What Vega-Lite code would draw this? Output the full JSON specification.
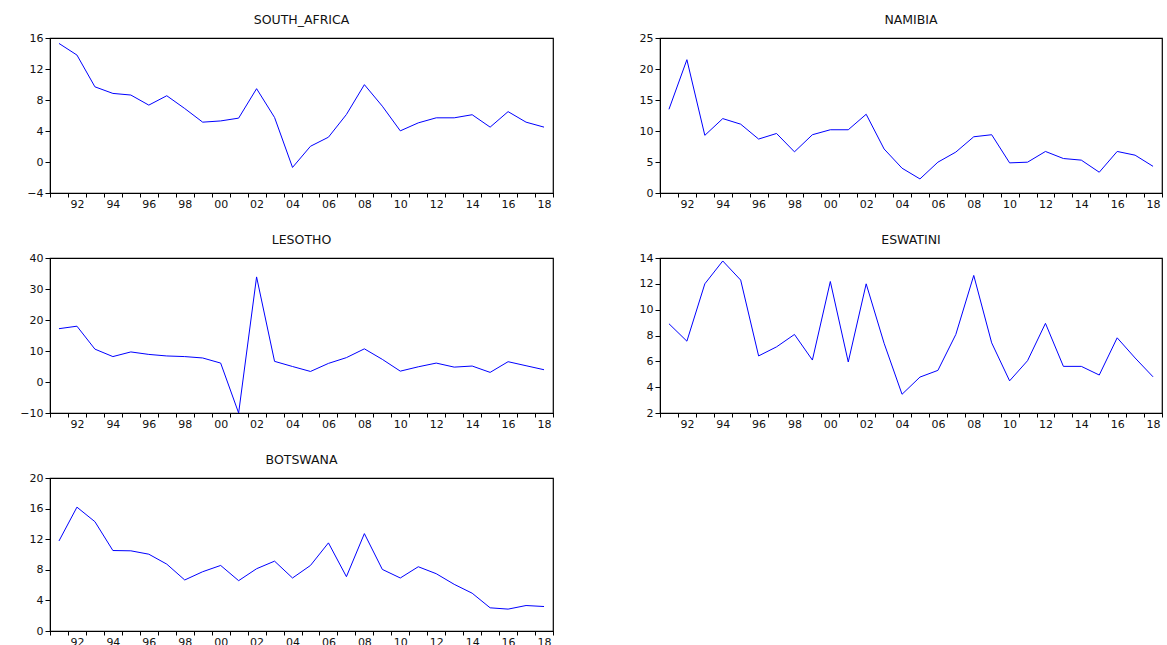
{
  "$schema": "https://vega.github.io/schema/vega-lite/v6.json",
  "padding": {"left": 19, "top": 12, "right": 0, "bottom": 0},
  "background": "white",
  "columns": 2,
  "spacing": {"column": 83, "row": 22},
  "datasets": {
    "gdp": [
      {"country": "SOUTH_AFRICA", "year": 1991, "value": 15.3},
      {"country": "SOUTH_AFRICA", "year": 1992, "value": 13.8},
      {"country": "SOUTH_AFRICA", "year": 1993, "value": 9.7},
      {"country": "SOUTH_AFRICA", "year": 1994, "value": 8.85},
      {"country": "SOUTH_AFRICA", "year": 1995, "value": 8.64},
      {"country": "SOUTH_AFRICA", "year": 1996, "value": 7.34},
      {"country": "SOUTH_AFRICA", "year": 1997, "value": 8.55},
      {"country": "SOUTH_AFRICA", "year": 1998, "value": 6.9},
      {"country": "SOUTH_AFRICA", "year": 1999, "value": 5.14},
      {"country": "SOUTH_AFRICA", "year": 2000, "value": 5.3},
      {"country": "SOUTH_AFRICA", "year": 2001, "value": 5.66},
      {"country": "SOUTH_AFRICA", "year": 2002, "value": 9.46},
      {"country": "SOUTH_AFRICA", "year": 2003, "value": 5.75},
      {"country": "SOUTH_AFRICA", "year": 2004, "value": -0.7},
      {"country": "SOUTH_AFRICA", "year": 2005, "value": 2.03},
      {"country": "SOUTH_AFRICA", "year": 2006, "value": 3.2},
      {"country": "SOUTH_AFRICA", "year": 2007, "value": 6.13},
      {"country": "SOUTH_AFRICA", "year": 2008, "value": 9.98},
      {"country": "SOUTH_AFRICA", "year": 2009, "value": 7.2},
      {"country": "SOUTH_AFRICA", "year": 2010, "value": 4.02},
      {"country": "SOUTH_AFRICA", "year": 2011, "value": 5.05},
      {"country": "SOUTH_AFRICA", "year": 2012, "value": 5.7},
      {"country": "SOUTH_AFRICA", "year": 2013, "value": 5.7},
      {"country": "SOUTH_AFRICA", "year": 2014, "value": 6.1},
      {"country": "SOUTH_AFRICA", "year": 2015, "value": 4.5},
      {"country": "SOUTH_AFRICA", "year": 2016, "value": 6.5},
      {"country": "SOUTH_AFRICA", "year": 2017, "value": 5.14},
      {"country": "SOUTH_AFRICA", "year": 2018, "value": 4.5},
      {"country": "NAMIBIA", "year": 1991, "value": 13.5},
      {"country": "NAMIBIA", "year": 1992, "value": 21.5},
      {"country": "NAMIBIA", "year": 1993, "value": 9.3},
      {"country": "NAMIBIA", "year": 1994, "value": 12.0},
      {"country": "NAMIBIA", "year": 1995, "value": 11.1},
      {"country": "NAMIBIA", "year": 1996, "value": 8.7},
      {"country": "NAMIBIA", "year": 1997, "value": 9.6},
      {"country": "NAMIBIA", "year": 1998, "value": 6.64},
      {"country": "NAMIBIA", "year": 1999, "value": 9.4},
      {"country": "NAMIBIA", "year": 2000, "value": 10.2},
      {"country": "NAMIBIA", "year": 2001, "value": 10.2},
      {"country": "NAMIBIA", "year": 2002, "value": 12.7},
      {"country": "NAMIBIA", "year": 2003, "value": 7.1},
      {"country": "NAMIBIA", "year": 2004, "value": 4.0},
      {"country": "NAMIBIA", "year": 2005, "value": 2.27},
      {"country": "NAMIBIA", "year": 2006, "value": 4.97},
      {"country": "NAMIBIA", "year": 2007, "value": 6.6},
      {"country": "NAMIBIA", "year": 2008, "value": 9.07},
      {"country": "NAMIBIA", "year": 2009, "value": 9.4},
      {"country": "NAMIBIA", "year": 2010, "value": 4.86},
      {"country": "NAMIBIA", "year": 2011, "value": 4.97},
      {"country": "NAMIBIA", "year": 2012, "value": 6.7},
      {"country": "NAMIBIA", "year": 2013, "value": 5.56},
      {"country": "NAMIBIA", "year": 2014, "value": 5.3},
      {"country": "NAMIBIA", "year": 2015, "value": 3.35},
      {"country": "NAMIBIA", "year": 2016, "value": 6.7},
      {"country": "NAMIBIA", "year": 2017, "value": 6.1},
      {"country": "NAMIBIA", "year": 2018, "value": 4.3},
      {"country": "LESOTHO", "year": 1991, "value": 17.2},
      {"country": "LESOTHO", "year": 1992, "value": 18.0},
      {"country": "LESOTHO", "year": 1993, "value": 10.6},
      {"country": "LESOTHO", "year": 1994, "value": 8.2},
      {"country": "LESOTHO", "year": 1995, "value": 9.7},
      {"country": "LESOTHO", "year": 1996, "value": 8.9},
      {"country": "LESOTHO", "year": 1997, "value": 8.4},
      {"country": "LESOTHO", "year": 1998, "value": 8.2},
      {"country": "LESOTHO", "year": 1999, "value": 7.75},
      {"country": "LESOTHO", "year": 2000, "value": 6.1},
      {"country": "LESOTHO", "year": 2001, "value": -10.0},
      {"country": "LESOTHO", "year": 2002, "value": 33.9},
      {"country": "LESOTHO", "year": 2003, "value": 6.66},
      {"country": "LESOTHO", "year": 2004, "value": 5.0},
      {"country": "LESOTHO", "year": 2005, "value": 3.4},
      {"country": "LESOTHO", "year": 2006, "value": 6.0},
      {"country": "LESOTHO", "year": 2007, "value": 7.86},
      {"country": "LESOTHO", "year": 2008, "value": 10.7},
      {"country": "LESOTHO", "year": 2009, "value": 7.3},
      {"country": "LESOTHO", "year": 2010, "value": 3.5},
      {"country": "LESOTHO", "year": 2011, "value": 4.9},
      {"country": "LESOTHO", "year": 2012, "value": 6.1},
      {"country": "LESOTHO", "year": 2013, "value": 4.8},
      {"country": "LESOTHO", "year": 2014, "value": 5.15},
      {"country": "LESOTHO", "year": 2015, "value": 3.1},
      {"country": "LESOTHO", "year": 2016, "value": 6.55},
      {"country": "LESOTHO", "year": 2017, "value": 5.25},
      {"country": "LESOTHO", "year": 2018, "value": 3.96},
      {"country": "ESWATINI", "year": 1991, "value": 8.91},
      {"country": "ESWATINI", "year": 1992, "value": 7.56},
      {"country": "ESWATINI", "year": 1993, "value": 12.0},
      {"country": "ESWATINI", "year": 1994, "value": 13.77},
      {"country": "ESWATINI", "year": 1995, "value": 12.29},
      {"country": "ESWATINI", "year": 1996, "value": 6.42},
      {"country": "ESWATINI", "year": 1997, "value": 7.12},
      {"country": "ESWATINI", "year": 1998, "value": 8.08},
      {"country": "ESWATINI", "year": 1999, "value": 6.1},
      {"country": "ESWATINI", "year": 2000, "value": 12.18},
      {"country": "ESWATINI", "year": 2001, "value": 5.95},
      {"country": "ESWATINI", "year": 2002, "value": 12.0},
      {"country": "ESWATINI", "year": 2003, "value": 7.4},
      {"country": "ESWATINI", "year": 2004, "value": 3.45},
      {"country": "ESWATINI", "year": 2005, "value": 4.78},
      {"country": "ESWATINI", "year": 2006, "value": 5.3},
      {"country": "ESWATINI", "year": 2007, "value": 8.08},
      {"country": "ESWATINI", "year": 2008, "value": 12.65},
      {"country": "ESWATINI", "year": 2009, "value": 7.43},
      {"country": "ESWATINI", "year": 2010, "value": 4.49},
      {"country": "ESWATINI", "year": 2011, "value": 6.05},
      {"country": "ESWATINI", "year": 2012, "value": 8.94},
      {"country": "ESWATINI", "year": 2013, "value": 5.61},
      {"country": "ESWATINI", "year": 2014, "value": 5.61},
      {"country": "ESWATINI", "year": 2015, "value": 4.94},
      {"country": "ESWATINI", "year": 2016, "value": 7.82},
      {"country": "ESWATINI", "year": 2017, "value": 6.26},
      {"country": "ESWATINI", "year": 2018, "value": 4.8},
      {"country": "BOTSWANA", "year": 1991, "value": 11.77},
      {"country": "BOTSWANA", "year": 1992, "value": 16.19},
      {"country": "BOTSWANA", "year": 1993, "value": 14.29},
      {"country": "BOTSWANA", "year": 1994, "value": 10.52},
      {"country": "BOTSWANA", "year": 1995, "value": 10.48},
      {"country": "BOTSWANA", "year": 1996, "value": 10.04},
      {"country": "BOTSWANA", "year": 1997, "value": 8.74},
      {"country": "BOTSWANA", "year": 1998, "value": 6.67},
      {"country": "BOTSWANA", "year": 1999, "value": 7.75},
      {"country": "BOTSWANA", "year": 2000, "value": 8.57},
      {"country": "BOTSWANA", "year": 2001, "value": 6.58},
      {"country": "BOTSWANA", "year": 2002, "value": 8.14},
      {"country": "BOTSWANA", "year": 2003, "value": 9.13},
      {"country": "BOTSWANA", "year": 2004, "value": 6.93},
      {"country": "BOTSWANA", "year": 2005, "value": 8.57},
      {"country": "BOTSWANA", "year": 2006, "value": 11.52},
      {"country": "BOTSWANA", "year": 2007, "value": 7.1},
      {"country": "BOTSWANA", "year": 2008, "value": 12.73},
      {"country": "BOTSWANA", "year": 2009, "value": 8.05},
      {"country": "BOTSWANA", "year": 2010, "value": 6.93},
      {"country": "BOTSWANA", "year": 2011, "value": 8.4},
      {"country": "BOTSWANA", "year": 2012, "value": 7.49},
      {"country": "BOTSWANA", "year": 2013, "value": 6.1},
      {"country": "BOTSWANA", "year": 2014, "value": 4.94},
      {"country": "BOTSWANA", "year": 2015, "value": 3.03},
      {"country": "BOTSWANA", "year": 2016, "value": 2.86},
      {"country": "BOTSWANA", "year": 2017, "value": 3.33},
      {"country": "BOTSWANA", "year": 2018, "value": 3.2}
    ]
  },
  "config": {
    "view": {"stroke": "black", "strokeWidth": 1.2},
    "font": "DejaVu Sans",
    "axis": {
      "grid": false,
      "domainColor": "black",
      "tickColor": "black",
      "labelColor": "#111111",
      "labelFont": "DejaVu Sans",
      "labelFontSize": 11,
      "tickSize": 5,
      "labelPadding": 2,
      "title": null
    },
    "axisX": {"labelAngle": 0, "labelOverlap": false, "labelFlush": false, "tickSize": 4, "labelPadding": 1},
    "title": {"font": "DejaVu Sans", "fontSize": 12.5, "fontWeight": "normal", "color": "#111111", "offset": 6}
  },
  "concat": [
    {
      "title": "SOUTH_AFRICA",
      "width": 503, "height": 155,
      "data": {"name": "gdp"},
      "transform": [{"filter": "datum.country == 'SOUTH_AFRICA'"}],
      "mark": {"type": "line", "color": "#0000ff", "strokeWidth": 1},
      "encoding": {
        "x": {"field": "year", "type": "ordinal", "bandPosition": 0.5,
              "scale": {"type": "band", "paddingInner": 0, "paddingOuter": 0},
              "axis": {"tickBand": "extent", "labelExpr": "datum.value % 2 == 0 ? substring(toString(datum.value), 2, 4) : ''"}},
        "y": {"field": "value", "type": "quantitative", "scale": {"domain": [-4, 16], "nice": false, "zero": false},
              "axis": {"values": [-4, 0, 4, 8, 12, 16]}}
      }
    },
    {
      "title": "NAMIBIA",
      "width": 502, "height": 155,
      "data": {"name": "gdp"},
      "transform": [{"filter": "datum.country == 'NAMIBIA'"}],
      "mark": {"type": "line", "color": "#0000ff", "strokeWidth": 1},
      "encoding": {
        "x": {"field": "year", "type": "ordinal", "bandPosition": 0.5,
              "scale": {"type": "band", "paddingInner": 0, "paddingOuter": 0},
              "axis": {"tickBand": "extent", "labelExpr": "datum.value % 2 == 0 ? substring(toString(datum.value), 2, 4) : ''"}},
        "y": {"field": "value", "type": "quantitative", "scale": {"domain": [0, 25], "nice": false},
              "axis": {"values": [0, 5, 10, 15, 20, 25]}}
      }
    },
    {
      "title": "LESOTHO",
      "width": 503, "height": 155,
      "data": {"name": "gdp"},
      "transform": [{"filter": "datum.country == 'LESOTHO'"}],
      "mark": {"type": "line", "color": "#0000ff", "strokeWidth": 1},
      "encoding": {
        "x": {"field": "year", "type": "ordinal", "bandPosition": 0.5,
              "scale": {"type": "band", "paddingInner": 0, "paddingOuter": 0},
              "axis": {"tickBand": "extent", "labelExpr": "datum.value % 2 == 0 ? substring(toString(datum.value), 2, 4) : ''"}},
        "y": {"field": "value", "type": "quantitative", "scale": {"domain": [-10, 40], "nice": false},
              "axis": {"values": [-10, 0, 10, 20, 30, 40]}}
      }
    },
    {
      "title": "ESWATINI",
      "width": 502, "height": 155,
      "data": {"name": "gdp"},
      "transform": [{"filter": "datum.country == 'ESWATINI'"}],
      "mark": {"type": "line", "color": "#0000ff", "strokeWidth": 1},
      "encoding": {
        "x": {"field": "year", "type": "ordinal", "bandPosition": 0.5,
              "scale": {"type": "band", "paddingInner": 0, "paddingOuter": 0},
              "axis": {"tickBand": "extent", "labelExpr": "datum.value % 2 == 0 ? substring(toString(datum.value), 2, 4) : ''"}},
        "y": {"field": "value", "type": "quantitative", "scale": {"domain": [2, 14], "nice": false, "zero": false},
              "axis": {"values": [2, 4, 6, 8, 10, 12, 14]}}
      }
    },
    {
      "title": "BOTSWANA",
      "width": 503, "height": 153,
      "data": {"name": "gdp"},
      "transform": [{"filter": "datum.country == 'BOTSWANA'"}],
      "mark": {"type": "line", "color": "#0000ff", "strokeWidth": 1},
      "encoding": {
        "x": {"field": "year", "type": "ordinal", "bandPosition": 0.5,
              "scale": {"type": "band", "paddingInner": 0, "paddingOuter": 0},
              "axis": {"tickBand": "extent", "labelExpr": "datum.value % 2 == 0 ? substring(toString(datum.value), 2, 4) : ''"}},
        "y": {"field": "value", "type": "quantitative", "scale": {"domain": [0, 20], "nice": false},
              "axis": {"values": [0, 4, 8, 12, 16, 20]}}
      }
    }
  ]
}
